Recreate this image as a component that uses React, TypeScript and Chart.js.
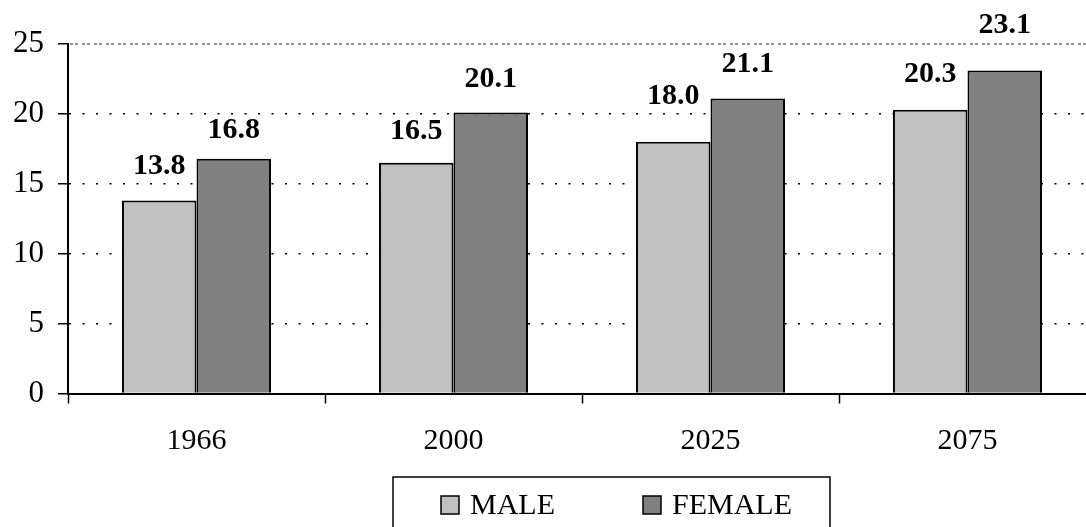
import React, { useEffect, useRef } from "react";
import { Chart, registerables } from "chart.js";

Chart.register(...registerables);

const categories = ["1966", "2000", "2025", "2075"];
const maleValues = [13.8, 16.5, 18.0, 20.3];
const femaleValues = [16.8, 20.1, 21.1, 23.1];
const seriesNames = ["MALE", "FEMALE"];
const yTicks = [0, 5, 10, 15, 20, 25];
// vertical lift (px) of each value label above its bar top
const maleLift = [34, 32, 46, 35];
const femaleLift = [28, 33, 34, 45];

const SERIF = "'Liberation Serif', 'Times New Roman', serif";

const valueLabelPlugin = {
  id: "valueLabels",
  afterDatasetsDraw(chart: any) {
    const ctx = chart.ctx;
    const lifts = [maleLift, femaleLift];
    ctx.save();
    ctx.font = `bold 30px ${SERIF}`;
    ctx.fillStyle = "#000";
    ctx.textAlign = "center";
    ctx.textBaseline = "middle";
    chart.data.datasets.forEach((ds: any, di: number) => {
      const meta = chart.getDatasetMeta(di);
      meta.data.forEach((el: any, i: number) => {
        const v = ds.data[i] as number;
        ctx.fillText(v.toFixed(1), el.x, el.y - lifts[di][i]);
      });
    });
    ctx.restore();
  },
};

const frameLinesPlugin = {
  id: "frameLines",
  beforeDatasetsDraw(chart: any) {
    const { ctx, chartArea } = chart;
    ctx.save();
    ctx.strokeStyle = "#707070";
    ctx.lineWidth = 1.5;
    ctx.setLineDash([3, 2, 3, 4]);
    ctx.beginPath();
    ctx.moveTo(chartArea.left + 2, chartArea.top);
    ctx.lineTo(chartArea.right, chartArea.top);
    ctx.stroke();
    ctx.restore();
  },
};

const boxLegendPlugin = {
  id: "boxLegend",
  afterDraw(chart: any, _args: any, opts: any) {
    const ctx = chart.ctx;
    ctx.save();
    ctx.strokeStyle = "#000";
    ctx.lineWidth = 1.5;
    ctx.strokeRect(opts.x, opts.y, opts.w, opts.h);
    ctx.font = `30px ${SERIF}`;
    ctx.textBaseline = "middle";
    ctx.textAlign = "left";
    chart.data.datasets.forEach((ds: any, i: number) => {
      const mx = opts.itemX[i];
      const cy = opts.y + opts.itemDy;
      ctx.fillStyle = ds.backgroundColor;
      ctx.fillRect(mx, cy - 9, 18, 18);
      ctx.strokeStyle = "#000";
      ctx.lineWidth = 1.5;
      ctx.strokeRect(mx, cy - 9, 18, 18);
      ctx.fillStyle = "#000";
      ctx.fillText(ds.label, mx + 29, cy + 1);
    });
    ctx.restore();
  },
};

export default function App() {
  const ref = useRef<HTMLCanvasElement>(null);
  useEffect(() => {
    if (!ref.current) return;
    const chart = new Chart(ref.current, {
      type: "bar",
      data: {
        labels: categories,
        datasets: [
          {
            label: seriesNames[0],
            data: maleValues,
            backgroundColor: "#C0C0C0",
            borderColor: "#000",
            borderWidth: 2,
            categoryPercentage: 0.58,
            barPercentage: 1,
          },
          {
            label: seriesNames[1],
            data: femaleValues,
            backgroundColor: "#808080",
            borderColor: "#000",
            borderWidth: 2,
            categoryPercentage: 0.58,
            barPercentage: 1,
          },
        ],
      },
      options: {
        responsive: false,
        animation: false,
        devicePixelRatio: 1,
        layout: { padding: { top: 44, right: 4, bottom: 0, left: 0 } },
        plugins: {
          legend: { display: false },
          tooltip: { enabled: false },
          boxLegend: { x: 393, y: 477, w: 437, h: 70, itemX: [441, 643], itemDy: 28 },
        } as any,
        scales: {
          x: {
            grid: {
              display: true,
              drawOnChartArea: false,
              drawTicks: true,
              tickLength: 10,
              tickColor: "#000",
              tickWidth: 1.5,
              offset: true,
            },
            border: { display: true, color: "#000", width: 2 },
            ticks: {
              color: "#000",
              font: { family: SERIF, size: 30 },
              padding: 20,
            },
            afterFit: (s: any) => {
              s.height = 133.5;
            },
          },
          y: {
            min: 0,
            max: 25,
            afterBuildTicks: (s: any) => {
              s.ticks = yTicks.map((v) => ({ value: v }));
            },
            grid: {
              color: (c: any) =>
                c.tick && (c.tick.value === 0 || c.tick.value === 25) ? "rgba(0,0,0,0)" : "#000",
              lineWidth: 1.5,
              tickColor: "#000",
              tickWidth: 1.5,
              tickLength: 10,
              drawTicks: true,
            },
            border: { display: true, color: "#000", width: 2, dash: [2, 11.5] },
            ticks: {
              color: "#000",
              font: { family: SERIF, size: 31 },
              padding: 14,
            },
            afterFit: (s: any) => {
              s.width = 68;
            },
          },
        },
      },
      plugins: [frameLinesPlugin, valueLabelPlugin, boxLegendPlugin],
    });
    return () => chart.destroy();
  }, []);
  return (
    <div
      style={{
        position: "absolute",
        left: 0,
        top: 0,
        width: 1086,
        height: 527,
        overflow: "hidden",
        background: "#fff",
      }}
    >
      <canvas ref={ref} width={1100} height={527} style={{ display: "block" }} />
    </div>
  );
}
